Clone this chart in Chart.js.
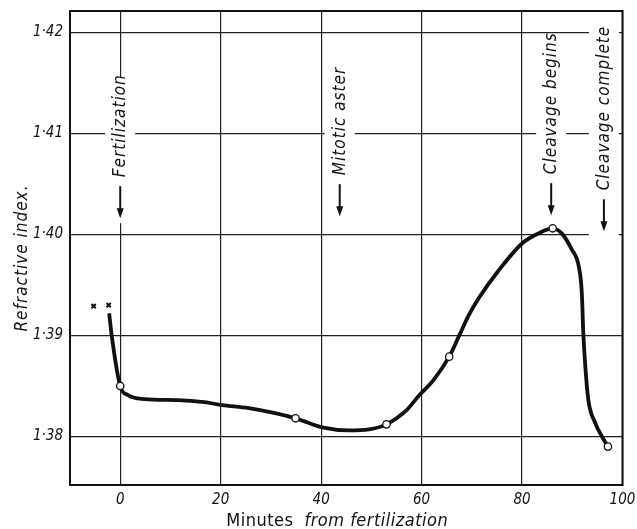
<!DOCTYPE html>
<html>
<head>
<meta charset="utf-8">
<script src="https://cdn.jsdelivr.net/npm/chart.js@4.4.1/dist/chart.umd.min.js"></script>
<style>
  html, body { margin: 0; padding: 0; background: #fff; }
  canvas { display: block; }
</style>
</head>
<body>
<canvas id="chart" width="637" height="529"></canvas>
<script>
// curve: minutes from fertilization vs refractive index
const curveMinutes = [-2.2, -1.7, 0, 1.5, 4.8, 11.4, 16.7, 20.3, 25.6, 34.9, 40.2, 45.5, 49.5, 53.0, 56.8, 59.4, 62.4, 65.5, 67.5, 69.4, 71.4, 75.3, 80.0, 83.3, 86.1, 87.9, 89.9, 91.3, 91.9, 92.2, 92.6, 93.2, 94.6, 95.9, 97.1];
const curveIndex = [1.3922, 1.3900, 1.3850, 1.3841, 1.3837, 1.3836, 1.3834, 1.3831, 1.3828, 1.3818, 1.3809, 1.3806, 1.3807, 1.3812, 1.3825, 1.3840, 1.3856, 1.3879, 1.3900, 1.3920, 1.3937, 1.3964, 1.3991, 1.4001, 1.4006, 1.4001, 1.3985, 1.3968, 1.3942, 1.3902, 1.3869, 1.3836, 1.3813, 1.3800, 1.3790];

// open circles (measured points)
const measuredMinutes = [0, 34.9, 53.0, 65.5, 86.1, 97.1];
const measuredIndex = [1.3850, 1.3818, 1.3812, 1.3879, 1.4006, 1.3790];

// crosses before fertilization
const crossMinutes = [-5.3, -2.3];
const crossIndex = [1.3929, 1.3930];

// events marked with arrows
const eventLabels = ['Fertilization', 'Mitotic aster', 'Cleavage begins', 'Cleavage complete'];
const eventMinutes = [0, 43.7, 85.8, 96.3];
const eventArrowTip = [1.4016, 1.4018, 1.4019, 1.4003];

const xTicks = [0, 20, 40, 60, 80, 100];
const xTickLabels = ['0', '20', '40', '60', '80', '100'];
const yTicks = [1.38, 1.39, 1.40, 1.41, 1.42];
const yTickLabels = ['1·38', '1·39', '1·40', '1·41', '1·42'];

const FONT = "'DejaVu Sans Condensed', 'DejaVu Sans', sans-serif";
const INK = '#111';

const pairs = (xs, ys) => xs.map((v, i) => ({ x: v, y: ys[i] }));

    // Labels, arrows, frame and axis titles
const figureText = {
    id: 'figureText',
    beforeDraw(chart) {
        const ctx = chart.ctx;
        ctx.save();
        ctx.fillStyle = '#fff';
        ctx.fillRect(0, 0, chart.width, chart.height);
        ctx.restore();
    },
    beforeDatasetsDraw(chart) {
        const { ctx, chartArea, scales: { x, y } } = chart;
        ctx.save();
        eventLabels.forEach((label, i) => {
            const px = x.getPixelForValue(eventMinutes[i]);
            const tip = y.getPixelForValue(eventArrowTip[i]);
            const start = tip - 32;
            const textEnd = start - 9;
            ctx.font = 'italic 17px ' + FONT;
            ctx.letterSpacing = '1px';
            const w = ctx.measureText(label).width;

            // blank the grid behind the label
            const boxTop = textEnd - w + 3;
            ctx.fillStyle = '#fff';
            ctx.fillRect(px - 15, boxTop, 30, tip + 5 - boxTop);

            ctx.save();
            ctx.translate(px + 5, textEnd);
            ctx.rotate(-Math.PI / 2);
            ctx.fillStyle = INK;
            ctx.textAlign = 'left';
            ctx.textBaseline = 'alphabetic';
            ctx.fillText(label, 0, 0);
            ctx.restore();

            ctx.strokeStyle = INK;
            ctx.fillStyle = INK;
            ctx.lineWidth = 2;
            ctx.beginPath();
            ctx.moveTo(px, start);
            ctx.lineTo(px, tip - 8);
            ctx.stroke();
            ctx.beginPath();
            ctx.moveTo(px - 3.5, tip - 10);
            ctx.lineTo(px + 3.5, tip - 10);
            ctx.lineTo(px, tip);
            ctx.closePath();
            ctx.fill();
        });
        ctx.letterSpacing = '0px';

        ctx.strokeStyle = INK;
        ctx.lineWidth = 2;
        ctx.strokeRect(chartArea.left, chartArea.top, chartArea.right - chartArea.left, chartArea.bottom - chartArea.top);
        ctx.restore();
    },
    afterDraw(chart) {
        const { ctx, chartArea } = chart;
        ctx.save();
        ctx.fillStyle = INK;
        ctx.textBaseline = 'alphabetic';

        // x title: "Minutes" upright, the rest italic
        const a = 'Minutes';
        const b = 'from fertilization';
        ctx.letterSpacing = '0.5px';
        ctx.font = '18px ' + FONT;
        const wa = ctx.measureText(a).width;
        ctx.font = 'italic 18px ' + FONT;
        const wb = ctx.measureText(b).width;
        const gap = 11;
        const cx = (chartArea.left + chartArea.right) / 2 - 9;
        const left = cx - (wa + gap + wb) / 2;
        ctx.textAlign = 'left';
        ctx.font = '18px ' + FONT;
        ctx.fillText(a, left, 526);
        ctx.font = 'italic 18px ' + FONT;
        ctx.fillText(b, left + wa + gap, 526);

        // y title
        ctx.letterSpacing = '1px';
        ctx.translate(27, 258);
        ctx.rotate(-Math.PI / 2);
        ctx.textAlign = 'center';
        ctx.font = 'italic 17px ' + FONT;
        ctx.fillText('Refractive index.', 0, 0);
        ctx.restore();
    }
};

const chart = document.getElementById('chart').getContext('2d');

new Chart(chart, {
    type: 'scatter',
    data: {
        datasets: [
            {
                label: 'curve',
                data: pairs(curveMinutes, curveIndex),
                showLine: true,
                borderColor: INK,
                borderWidth: 3.8,
                pointRadius: 0,
                cubicInterpolationMode: 'monotone',
                order: 3
            },
            {
                label: 'measured',
                data: pairs(measuredMinutes, measuredIndex),
                pointRadius: 3.7,
                pointBackgroundColor: '#fff',
                pointBorderColor: INK,
                pointBorderWidth: 1.3,
                order: 1
            },
            {
                label: 'before',
                data: pairs(crossMinutes, crossIndex),
                pointStyle: 'crossRot',
                pointRadius: 3,
                pointBorderColor: INK,
                pointBorderWidth: 2,
                order: 2
            }
        ]
    },
    options: {
        responsive: false,
        animation: false,
        layout: { padding: { top: 11, right: 14.5, bottom: 0, left: 0 } },
        plugins: {
            legend: { display: false },
            tooltip: { enabled: false }
        },
        scales: {
            x: {
                type: 'linear',
                min: -10,
                max: 100,
                afterBuildTicks: (scale) => { scale.ticks = xTicks.map(v => ({ value: v })); },
                afterFit: (scale) => {
                    scale.height = 44;
                    scale.paddingLeft = 0;
                    scale.paddingRight = 0;
                },
                border: { display: false },
                grid: { color: '#222', lineWidth: 1.2, drawTicks: false },
                ticks: {
                    padding: 6,
                    color: INK,
                    font: { family: FONT, size: 15, style: 'italic' },
                    callback: (v) => xTickLabels[xTicks.indexOf(v)]
                }
            },
            y: {
                min: 1.3752,
                max: 1.4221,
                afterBuildTicks: (scale) => { scale.ticks = yTicks.map(v => ({ value: v })); },
                afterFit: (scale) => {
                    scale.width = 70;
                    scale.paddingTop = 0;
                    scale.paddingBottom = 0;
                },
                border: { display: false },
                grid: { color: '#222', lineWidth: 1.2, drawTicks: false },
                ticks: {
                    padding: 7,
                    color: INK,
                    font: { family: FONT, size: 15, style: 'italic' },
                    callback: (v) => yTickLabels[yTicks.indexOf(v)]
                }
            }
        }
    },
    plugins: [figureText]
});
</script>
</body>
</html>
